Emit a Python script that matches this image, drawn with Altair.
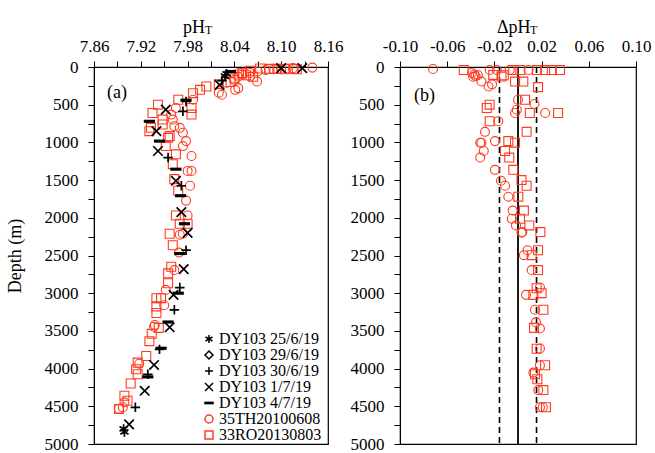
import altair as alt
import pandas as pd

FONT = "Liberation Serif"
RED = "#ff3b1f"

SERIES = ["DY103 25/6/19", "DY103 29/6/19", "DY103 30/6/19", "DY103 1/7/19",
          "DY103 4/7/19", "35TH20100608", "33RO20130803"]
COLORS = ["black", "black", "black", "black", "black", RED, RED]
ASTER = "M0,-1L0,1M-0.87,-0.5L0.87,0.5M-0.87,0.5L0.87,-0.5"
PLUS = "M-1,0L1,0M0,-1L0,1"
CROSS = "M-1,-1L1,1M-1,1L1,-1"
BAR = "M-1,-0.15L1,-0.15L1,0.15L-1,0.15Z"
SHAPES = [ASTER, "diamond", PLUS, CROSS, BAR, "circle", "square"]

# ---- panel (a): pH_T vs depth ----
dy25_ph = [8.028, 8.030, 7.898, 7.899]
dy25_z = [120, 90, 4800, 4840]
dy30_ph = [8.024, 7.978, 7.974, 7.955, 7.972, 7.978, 7.970, 7.963, 7.944, 7.929, 7.913]
dy30_z = [180, 456, 588, 1201, 1575, 2430, 2925, 3220, 3745, 4076, 4513]
dy01_ph = [8.127, 8.100, 8.021, 7.952, 7.940, 7.942, 7.965, 7.972, 7.980, 7.975, 7.962,
           7.957, 7.937, 7.925, 7.905]
dy01_z = [15, 15, 237, 566, 851, 1114, 1509, 1925, 2200, 2680, 3022, 3452, 3952, 4294, 4740]
dy04_ph = [8.035, 7.978, 7.931, 7.944, 7.965, 7.971, 7.976, 7.970, 7.968, 7.955, 7.946,
           7.929]
dy04_z = [60, 440, 720, 983, 1355, 1707, 2079, 2474, 3000, 3382, 3730, 4110]

th_ph = [8.140, 8.115, 8.107, 8.100, 8.090, 8.080, 8.070, 8.060, 8.050, 8.045, 8.069,
         8.045, 8.041, 8.024, 8.020, 8.030, 8.040, 8.060, 7.987, 7.965, 7.959, 7.961,
         7.963, 7.970, 7.974, 7.978, 7.974, 7.985, 7.980, 7.985, 7.983, 7.978, 7.980,
         7.974, 7.970, 7.969, 7.963, 7.952, 7.950, 7.938, 7.937, 7.918, 7.899, 7.897,
         7.892]
th_z = [8, 15, 20, 25, 30, 40, 60, 80, 100, 130, 193, 280, 303, 368, 340, 210, 170, 128,
        434, 544, 631, 697, 785, 807, 872, 983, 1049, 1180, 1378, 1378, 1575, 1772, 1970,
        2211, 2224, 2461, 2693, 2956, 3160, 3421, 3445, 3935, 4447, 4513, 4535]
ro_ph = [8.073, 8.085, 8.095, 8.105, 8.116, 8.120, 8.060, 8.050, 8.046, 8.064, 8.055,
         8.040, 8.035, 8.020, 8.004, 7.996, 7.987, 7.968, 7.985, 7.985, 7.942, 7.935,
         7.948, 7.931, 7.933, 7.948, 7.955, 7.957, 7.952, 7.965, 7.961, 7.963, 7.968,
         7.965, 7.970, 7.980, 7.957, 7.961, 7.959, 7.955, 7.955, 7.940, 7.946, 7.940,
         7.940, 7.943, 7.934, 7.931, 7.927, 7.916, 7.914, 7.916, 7.907, 7.899, 7.903,
         7.892]
ro_z = [20, 25, 25, 30, 25, 30, 50, 80, 100, 130, 110, 150, 200, 230, 259, 303, 347, 434,
        544, 631, 500, 610, 697, 851, 807, 763, 939, 917, 1049, 1158, 1289, 1487, 1641,
        1970, 2079, 2079, 2211, 2364, 2649, 2737, 2868, 3066, 3066, 3175, 3263, 3460,
        3539, 3636, 3833, 3921, 4009, 4075, 4197, 4360, 4426, 4535]

# ---- panel (b): delta pH_T vs depth ----
dth = [-0.072, -0.024, -0.018, -0.007, 0.009, -0.039, -0.037, -0.036, -0.038, -0.034,
       -0.031, -0.025, -0.022, 0.000, 0.014, -0.001, -0.0025, 0.023, -0.0167, -0.028,
       -0.032, -0.031, -0.0195, -0.029, -0.032, -0.0195, -0.0144, -0.011, -0.0082,
       -0.0045, -0.0053, -0.0017, 0.0037, 0.003, 0.008, 0.005, 0.0116, 0.0186, 0.0068,
       0.0144, 0.0153, 0.0186, 0.0186, 0.0186, 0.013, 0.0172, 0.0186, 0.021]
dth_z = [26, 40, 40, 40, 40, 80, 100, 120, 130, 110, 193, 259, 230, 434, 491, 566, 610,
         610, 720, 860, 1004, 1004, 983, 1114, 1201, 1364, 1509, 1575, 1720, 1904, 2013,
         2101, 2189, 2197, 2430, 2496, 2693, 2925, 3022, 3220, 3386, 3469, 3733, 3956,
         4053, 4285, 4513, 4513]
dro = [-0.046, -0.021, -0.014, -0.012, -0.004, 0.002, 0.016, 0.023, 0.0286, 0.0356,
       -0.0025, 0.0045, 0.017, 0.006, 0.010, 0.034, -0.0265, -0.024, -0.024, 0.0073,
       -0.0082, -0.0025, -0.011, -0.0074, -0.004, 0.003, 0.0073, 0.0003, 0.005, 0.0017,
       0.0096, 0.019, 0.017, 0.0116, 0.017, 0.0158, 0.013, 0.020, 0.0215, 0.0136, 0.0158,
       0.023, 0.0144, 0.0164, 0.0215, 0.0237]
dro_z = [40, 105, 127, 110, 40, 40, 40, 40, 40, 40, 193, 193, 267, 434, 610, 610, 544,
         500, 720, 860, 983, 1004, 1114, 1201, 1364, 1500, 1575, 1720, 1904, 2013, 2101,
         2189, 2430, 2496, 2693, 2934, 3022, 3000, 3220, 3460, 3737, 3956, 4075, 4141,
         4285, 4513]
ZERO_LINE = [0.0]
BAND_LINES = [-0.0157, 0.0157]


def rows(xs, zs, name, xcol):
    return [{xcol: a, "depth": b, "series": name} for a, b in zip(xs, zs)]


left_rows = (rows(dy25_ph, dy25_z, SERIES[0], "v") + rows(dy30_ph, dy30_z, SERIES[2], "v")
             + rows(dy01_ph, dy01_z, SERIES[3], "v") + rows(dy04_ph, dy04_z, SERIES[4], "v")
             + rows(th_ph, th_z, SERIES[5], "v") + rows(ro_ph, ro_z, SERIES[6], "v"))
right_rows = rows(dth, dth_z, SERIES[5], "v") + rows(dro, dro_z, SERIES[6], "v")
df_left = pd.DataFrame(left_rows)
df_right = pd.DataFrame(right_rows)

W1, W2, H = 234, 236, 377

yaxis_vals = list(range(0, 5001, 250))
y_label_expr = "datum.value % 500 == 0 ? format(datum.value, 'd') : ''"


def y_enc(title):
    kw = dict(values=yaxis_vals, labelExpr=y_label_expr, labelPadding=10,
              labelOverlap=False, tickSize=6)
    if title:
        kw.update(title=title, titlePadding=20)
    else:
        kw.update(title=None)
    return alt.Y("depth:Q", scale=alt.Scale(domain=[0, 5000], reverse=True, nice=False,
                                              zero=False),
                 axis=alt.Axis(**kw))


legend = alt.Legend(orient="none", legendX=107, legendY=264, title=None,
                    labelFont=FONT, labelFontSize=16, labelColor="black",
                    symbolSize=64, symbolStrokeWidth=1.5, rowPadding=-1.8, padding=0,
                    labelOffset=2)

color_l = alt.Color("series:N", scale=alt.Scale(domain=SERIES, range=COLORS), legend=legend)
shape_l = alt.Shape("series:N", scale=alt.Scale(domain=SERIES, range=SHAPES), legend=legend)
color_r = alt.Color("series:N", scale=alt.Scale(domain=SERIES, range=COLORS), legend=None)
shape_r = alt.Shape("series:N", scale=alt.Scale(domain=SERIES, range=SHAPES), legend=None)

x_left_vals = [round(7.86 + 0.03 * i, 2) for i in range(11)]
x_left = alt.X("v:Q", scale=alt.Scale(domain=[7.86, 8.16], nice=False, zero=False),
               axis=alt.Axis(orient="top", values=x_left_vals, title=None, tickSize=6,
                             labelPadding=6, labelOverlap=False, labelFlush=False,
                             labelExpr="round((datum.value-7.86)*100) % 6 == 0 ? format(datum.value, '.2f') : ''"))
x_right_vals = [round(-0.10 + 0.02 * i, 2) for i in range(11)]
x_right = alt.X("v:Q", scale=alt.Scale(domain=[-0.10, 0.10], nice=False, zero=False),
                axis=alt.Axis(orient="top", values=x_right_vals, title=None, tickSize=6,
                              labelPadding=6, labelOverlap=False, labelFlush=False,
                              labelExpr="abs(round(datum.value*100)) % 4 == 2 ? (datum.value < 0 ? '-' : '') + format(abs(datum.value), '.2f') : ''"))

black_set = SERIES[:5]

base_l = alt.Chart(df_left)
pts_black = base_l.transform_filter(alt.FieldOneOfPredicate(field="series", oneOf=black_set)).mark_point(
    filled=False, size=90, strokeWidth=1.7, opacity=1).encode(
    x=x_left, y=y_enc("Depth (m)"), color=color_l, shape=shape_l)
pts_red_l = base_l.transform_filter(alt.FieldOneOfPredicate(field="series", oneOf=SERIES[5:])).mark_point(
    filled=False, size=80, strokeWidth=1.1, opacity=1).encode(
    x=x_left, y=y_enc("Depth (m)"), color=color_l, shape=shape_l)


def txt(s, x, y, size, align="left"):
    return alt.Chart(pd.DataFrame({"t": [s]})).mark_text(
        font=FONT, fontSize=size, align=align, baseline="alphabetic", color="black").encode(
        text="t:N", x=alt.value(x), y=alt.value(y))


left = alt.layer(
    pts_red_l, pts_black,
    txt("pH", 89, -34, 18), txt("T", 111, -33, 12),
    txt("(a)", 13, 31, 18),
).properties(width=W1, height=H)

pts_red_r = alt.Chart(df_right).mark_point(filled=False, size=80, strokeWidth=1.1, opacity=1).encode(
    x=x_right, y=y_enc(None), color=color_r, shape=shape_r)
zero_rule = alt.Chart(pd.DataFrame({"v": ZERO_LINE})).mark_rule(color="black", strokeWidth=1.8).encode(
    x=alt.X("v:Q"))
band_rule = alt.Chart(pd.DataFrame({"v": BAND_LINES})).mark_rule(
    color="black", strokeWidth=1.6, strokeDash=[6, 4]).encode(x=alt.X("v:Q"))

right = alt.layer(
    zero_rule, band_rule, pts_red_r,
    txt("\u0394pH", 97, -34, 18), txt("T", 130, -33, 12),
    txt("(b)", 14, 34, 18),
).properties(width=W2, height=H)

chart = alt.hconcat(left, right, spacing=5).resolve_scale(
    color="independent", shape="independent").resolve_legend(
    color="independent", shape="independent").properties(
    padding={"left": 5, "top": 18, "right": 2, "bottom": 0}, background="white"
).configure_axis(
    labelFont=FONT, labelFontSize=17, labelColor="black", titleFont=FONT, titleFontSize=18,
    titleFontWeight="normal", titleColor="black", domainColor="black", tickColor="black",
    grid=False, domainWidth=1, tickWidth=1
).configure_view(stroke="black", strokeWidth=1.2)

chart.save("out.html", embed_options={"renderer": "svg", "actions": False})
